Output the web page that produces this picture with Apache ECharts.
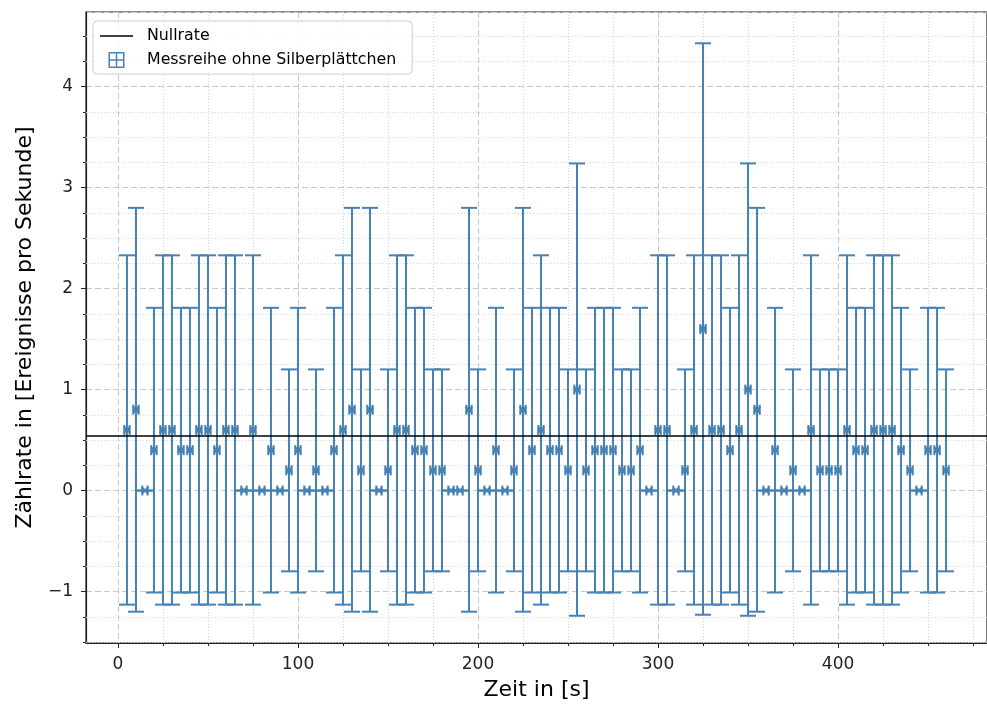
<!DOCTYPE html>
<html lang="de">
<head>
<meta charset="UTF-8">
<title>Messreihe ohne Silberplättchen</title>
<script src="https://cdn.jsdelivr.net/npm/echarts@6/dist/echarts.min.js"></script>
<style>
html,body{margin:0;padding:0;background:#fff;}
#main{width:987px;height:709px;}
</style>
</head>
<body>
<div id="main"></div>
<script type="text/javascript">
// Messzeitpunkte in s
var zeit = [5,10,15,20,25,30,35,40,45,50,
	55,60,65,70,75,80,85,90,95,100,
	105,110,115,120,125,130,135,140,145,150,
	155,160,165,170,175,180,185,190,195,200,
	205,210,215,220,225,230,235,240,245,250,
	255,260,265,270,275,280,285,290,295,300,
	305,310,315,320,325,330,335,340,345,350,
	355,360,365,370,375,380,385,390,395,400,
	405,410,415,420,425,430,435,440,445,450,
	455,460];
// Zählrate (Ereignisse pro Sekunde)
var rate = [0.6,0.8,0,0.4,0.6,0.6,0.4,0.4,0.6,0.6,
	0.4,0.6,0.6,0,0.6,0,0.4,0,0.2,0.4,
	0,0.2,0,0.4,0.6,0.8,0.2,0.8,0,0.2,
	0.6,0.6,0.4,0.4,0.2,0.2,0,0,0.8,0.2,
	0,0.4,0,0.2,0.8,0.4,0.6,0.4,0.4,0.2,
	1.0,0.2,0.4,0.4,0.4,0.2,0.2,0.4,0,0.6,
	0.6,0,0.2,0.6,1.6,0.6,0.6,0.4,0.6,1.0,
	0.8,0,0.4,0,0.2,0,0.6,0.2,0.2,0.2,
	0.6,0.4,0.4,0.6,0.6,0.6,0.4,0.2,0,0.4,
	0.4,0.2];
// Fehler der Zählrate (symmetrisch)
var fehler = [1.73,2.0,0,1.41,1.73,1.73,1.41,1.41,1.73,1.73,
	1.41,1.73,1.73,0,1.73,0,1.41,0,1.0,1.41,
	0,1.0,0,1.41,1.73,2.0,1.0,2.0,0,1.0,
	1.73,1.73,1.41,1.41,1.0,1.0,0,0,2.0,1.0,
	0,1.41,0,1.0,2.0,1.41,1.73,1.41,1.41,1.0,
	2.24,1.0,1.41,1.41,1.41,1.0,1.0,1.41,0,1.73,
	1.73,0,1.0,1.73,2.83,1.73,1.73,1.41,1.73,2.24,
	2.0,0,1.41,0,1.0,0,1.73,1.0,1.0,1.0,
	1.73,1.41,1.41,1.73,1.73,1.73,1.41,1.0,0,1.41,
	1.41,1.0];
var zeitFehler = 1.5;
var nullrate = 0.54;

// Nebenticks (Hilfsgitter)
var xNebenticks = [25,50,75,125,150,175,225,250,275,325,350,375,425,450,475];
var yNebenticks = [-1.5,-1.25,-0.75,-0.5,-0.25,0.25,0.5,0.75,1.25,1.5,1.75,2.25,2.5,2.75,3.25,3.5,3.75,4.25,4.5];

var blau = '#4682b4';
var schrift = 'DejaVu Sans';

var myChart = echarts.init(document.getElementById('main'));

var messdaten = [];
for (var i = 0; i < zeit.length; i++) {
	messdaten.push([zeit[i], rate[i], fehler[i]]);
}

function minus(v) {
	return String(v).replace('-', '\u2212');
}

// gepunktetes Nebengitter + kurze Nebenticks
function renderRaster(params, api) {
	var cs = params.coordSys;
	var kinder = [];
	var gitter = {stroke: '#d4d4d4', lineWidth: 1, lineDash: [1, 2]};
	var tick = {stroke: '#222', lineWidth: 1};
	xNebenticks.forEach(function (v) {
		var px = Math.round(api.coord([v, 0])[0]) + 0.5;
		kinder.push({type: 'line', shape: {x1: px, y1: cs.y, x2: px, y2: cs.y + cs.height}, style: gitter});
		kinder.push({type: 'line', shape: {x1: px, y1: cs.y + cs.height, x2: px, y2: cs.y + cs.height + 3}, style: tick});
	});
	yNebenticks.forEach(function (v) {
		var py = Math.round(api.coord([0, v])[1]) + 0.5;
		kinder.push({type: 'line', shape: {x1: cs.x, y1: py, x2: cs.x + cs.width, y2: py}, style: gitter});
		kinder.push({type: 'line', shape: {x1: cs.x - 3, y1: py, x2: cs.x, y2: py}, style: tick});
	});
	return {type: 'group', children: kinder};
}

// Fehlerbalken mit Kappen und x-Marker
function renderFehlerbalken(params, api) {
	var x = api.value(0), y = api.value(1), e = api.value(2);
	var mitte = api.coord([x, y]);
	var oben = api.coord([x, y + e]);
	var unten = api.coord([x, y - e]);
	var links = api.coord([x - zeitFehler, y])[0];
	var rechts = api.coord([x + zeitFehler, y])[0];
	var kappe = 8;
	var stil = {stroke: blau, lineWidth: 2, fill: null};
	var kinder = [];
	if (e > 0) {
		kinder.push({type: 'line', shape: {x1: mitte[0], y1: oben[1], x2: mitte[0], y2: unten[1]}, style: stil});
	}
	kinder.push({type: 'line', shape: {x1: mitte[0] - kappe, y1: oben[1], x2: mitte[0] + kappe, y2: oben[1]}, style: stil});
	kinder.push({type: 'line', shape: {x1: mitte[0] - kappe, y1: unten[1], x2: mitte[0] + kappe, y2: unten[1]}, style: stil});
	kinder.push({type: 'line', shape: {x1: links, y1: mitte[1], x2: rechts, y2: mitte[1]}, style: stil});
	kinder.push({type: 'line', shape: {x1: links, y1: mitte[1] - 5, x2: links, y2: mitte[1] + 5}, style: stil});
	kinder.push({type: 'line', shape: {x1: rechts, y1: mitte[1] - 5, x2: rechts, y2: mitte[1] + 5}, style: stil});
	kinder.push({type: 'line', shape: {x1: mitte[0] - 3, y1: mitte[1] - 3, x2: mitte[0] + 3, y2: mitte[1] + 3}, style: stil});
	kinder.push({type: 'line', shape: {x1: mitte[0] - 3, y1: mitte[1] + 3, x2: mitte[0] + 3, y2: mitte[1] - 3}, style: stil});
	return {type: 'group', children: kinder};
}

var option = {
	animation: false,
	backgroundColor: '#fff',
	grid: {
		left: 86, right: -6, top: 12, bottom: 66,
		show: true, borderColor: '#222', borderWidth: 1.2, backgroundColor: '#fff'
	},
	legend: {
		orient: 'vertical', left: 93, top: 21,
		padding: [7, 16, 6, 7],
		itemWidth: 33, itemHeight: 16, itemGap: 8,
		symbolKeepAspect: true,
		backgroundColor: 'rgba(255,255,255,0.85)',
		borderColor: '#cccccc', borderWidth: 1, borderRadius: 4,
		textStyle: {fontFamily: schrift, fontSize: 15.8, color: '#000', padding: [0, 0, 0, 9]},
		data: [
			{name: 'Nullrate', icon: 'path://M0,0H33V1.5H0Z'},
			{name: 'Messreihe ohne Silberplättchen',
				icon: 'path://M0,0H16V1.5H0Z M0,14.5H16V16H0Z M0,0H1.5V16H0Z M14.5,0H16V16H14.5Z M7.25,0H8.75V16H7.25Z M0,7.25H16V8.75H0Z'}
		]
	},
	xAxis: {
		type: 'value',
		min: -17.75, max: 482.75,
		name: 'Zeit in [s]', nameLocation: 'middle', nameGap: 36,
		nameTextStyle: {fontFamily: schrift, fontSize: 22, color: '#000'},
		axisLine: {show: true, onZero: false, lineStyle: {color: '#222', width: 1.2}},
		axisTick: {show: true, inside: false, length: 5, lineStyle: {color: '#222', width: 1}},
		axisLabel: {fontFamily: schrift, fontSize: 17, color: '#222', margin: 13,
			showMinLabel: false, showMaxLabel: false, formatter: minus},
		splitLine: {show: true, lineStyle: {color: '#c8c8c8', width: 1, type: [6, 3]}}
	},
	yAxis: {
		type: 'value',
		min: -1.51, max: 4.74,
		name: 'Zählrate in [Ereignisse pro Sekunde]', nameLocation: 'middle', nameGap: 50,
		nameTextStyle: {fontFamily: schrift, fontSize: 22, color: '#000'},
		axisLine: {show: true, onZero: false, lineStyle: {color: '#222', width: 1.2}},
		axisTick: {show: true, inside: false, length: 5, lineStyle: {color: '#222', width: 1}},
		axisLabel: {fontFamily: schrift, fontSize: 17, color: '#222', margin: 13,
			showMinLabel: false, showMaxLabel: false, formatter: minus},
		splitLine: {show: true, lineStyle: {color: '#c8c8c8', width: 1, type: [6, 3]}}
	},
	series: [
		{
			name: 'Raster',
			type: 'custom',
			silent: true,
			z: 1,
			renderItem: renderRaster,
			data: [[0, 0]]
		},
		{
			name: 'Messreihe ohne Silberplättchen',
			type: 'custom',
			z: 3,
			itemStyle: {color: blau},
			renderItem: renderFehlerbalken,
			encode: {x: 0, y: 1},
			data: messdaten
		},
		{
			name: 'Nullrate',
			type: 'line',
			z: 5,
			itemStyle: {color: '#000'},
			lineStyle: {color: '#000'},
			data: [],
			markLine: {
				silent: true,
				symbol: ['none', 'none'],
				label: {show: false},
				lineStyle: {color: '#000', width: 1.5, type: 'solid'},
				data: [{yAxis: nullrate}]
			}
		}
	]
};

if (option && typeof option === "object") {
	myChart.setOption(option);
}
</script>
</body>
</html>
